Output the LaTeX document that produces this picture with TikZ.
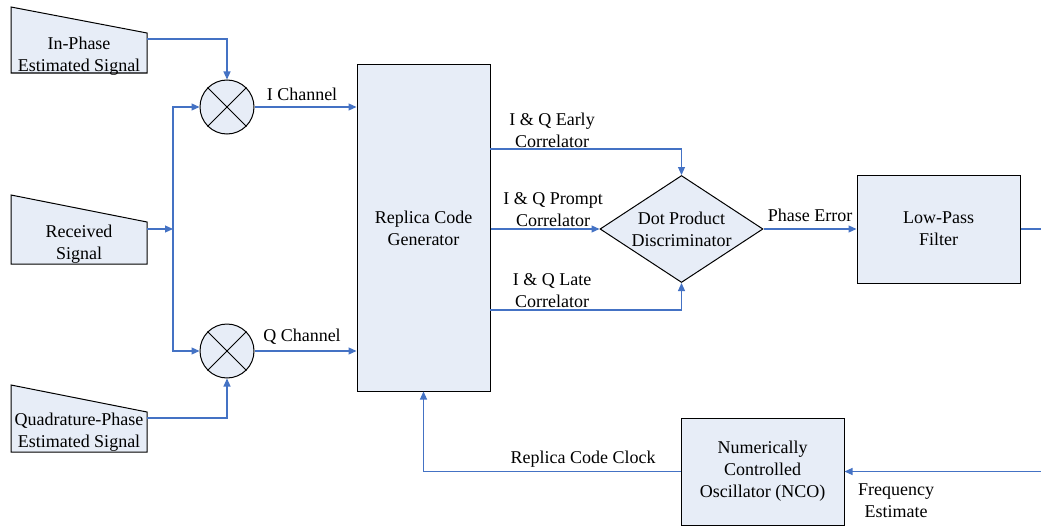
\documentclass[tikz,border=0pt]{standalone}
\usepackage{fontspec}
\setmainfont{Liberation Serif}
\usetikzlibrary{shapes.geometric,arrows.meta}
\definecolor{wireblue}{RGB}{68,114,196}
\definecolor{boxfill}{RGB}{231,237,247}
\begin{document}
\begin{tikzpicture}[x=1pt,y=-1pt,
  txt/.style={align=center,inner sep=0pt,font=\fontsize{18}{22}\selectfont},
  blockbox/.style={txt,draw=black,line width=1pt,fill=boxfill},
  inshape/.style={draw=black,line width=1pt,fill=boxfill},
  wire/.style={draw=wireblue,line width=1.1pt},
  arr/.style={wire,-{Triangle[length=8pt,width=7pt]}}]
\useasboundingbox (0,0) rectangle (1041,527);

% signal inputs (manual-input shapes)
\draw[inshape] (11,7) -- (147,33) -- (147,73) -- (11,73) -- cycle;
\node[txt] (inph) at (79,56) {In-Phase\\Estimated Signal};
\coordinate (inphout) at (147,39);

\draw[inshape] (11,195) -- (147,222) -- (147,264) -- (11,264) -- cycle;
\node[txt] (recv) at (79,244) {Received\\Signal};
\coordinate (recvout) at (147,229);

\draw[inshape] (11,385) -- (147,412) -- (147,452) -- (11,452) -- cycle;
\node[txt] (quad) at (79,432) {Quadrature-Phase\\Estimated Signal};
\coordinate (quadout) at (147,418);

\coordinate (split) at (173,229);

% mixers
\node[blockbox,circle,minimum size=54pt] (m1) at (227,107) {};
\draw[line width=1pt] (m1.north west) -- (m1.south east) (m1.north east) -- (m1.south west);
\node[blockbox,circle,minimum size=54pt] (m2) at (227,351) {};
\draw[line width=1pt] (m2.north west) -- (m2.south east) (m2.north east) -- (m2.south west);

% processing blocks
\node[blockbox,minimum width=133pt,minimum height=326pt] (rcg) at (423.5,228) {Replica Code\\Generator};
\node[blockbox,diamond,aspect=1.52,minimum width=163pt,minimum height=107pt] (disc) at (681.5,229) {Dot Product\\Discriminator};
\node[blockbox,minimum width=163pt,minimum height=108pt] (lpf) at (938.5,229) {Low-Pass\\Filter};
\node[blockbox,minimum width=163pt,minimum height=107pt] (nco) at (762.5,471.5) {Numerically\\Controlled\\Oscillator (NCO)};

\coordinate (eout) at (490,149);
\coordinate (lout) at (490,310);
\coordinate (lpfout) at (1041,229);
\coordinate (fin) at (1041,471.5);

% connectors
\draw[arr] (inphout) -| (m1.north);
\draw[arr] (recvout) -- (split);
\draw[arr] (split) |- (m1.west);
\draw[arr] (split) |- (m2.west);
\draw[arr] (quadout) -| (m2.south);
\draw[arr] (m1.east) -- (m1.east -| rcg.west);
\draw[arr] (m2.east) -- (m2.east -| rcg.west);
\draw[arr] (eout) -| (disc.north);
\draw[arr] (rcg.east |- disc.west) -- (disc.west);
\draw[arr] (lout) -| (disc.south);
\draw[arr] (disc.east) -- (lpf.west);
\draw[wire] (lpf.east) -- (lpfout);
\draw[arr] (fin) -- (nco.east);
\draw[arr] (nco.west) -| (rcg.south);

% connector labels
\node[txt] (lblI) at (302,94) {I Channel};
\node[txt] (lblQ) at (302,337) {Q Channel};
\node[txt] (lblE) at (552,130) {I \& Q Early\\Correlator};
\node[txt] (lblP) at (553,210) {I \& Q Prompt\\Correlator};
\node[txt] (lblL) at (552,291) {I \& Q Late\\Correlator};
\node[txt] (lblPE) at (810,215) {Phase Error};
\node[txt] (lblClk) at (583,459) {Replica Code Clock};
\node[txt] (lblF) at (896,501) {Frequency\\Estimate};
\end{tikzpicture}
\end{document}
